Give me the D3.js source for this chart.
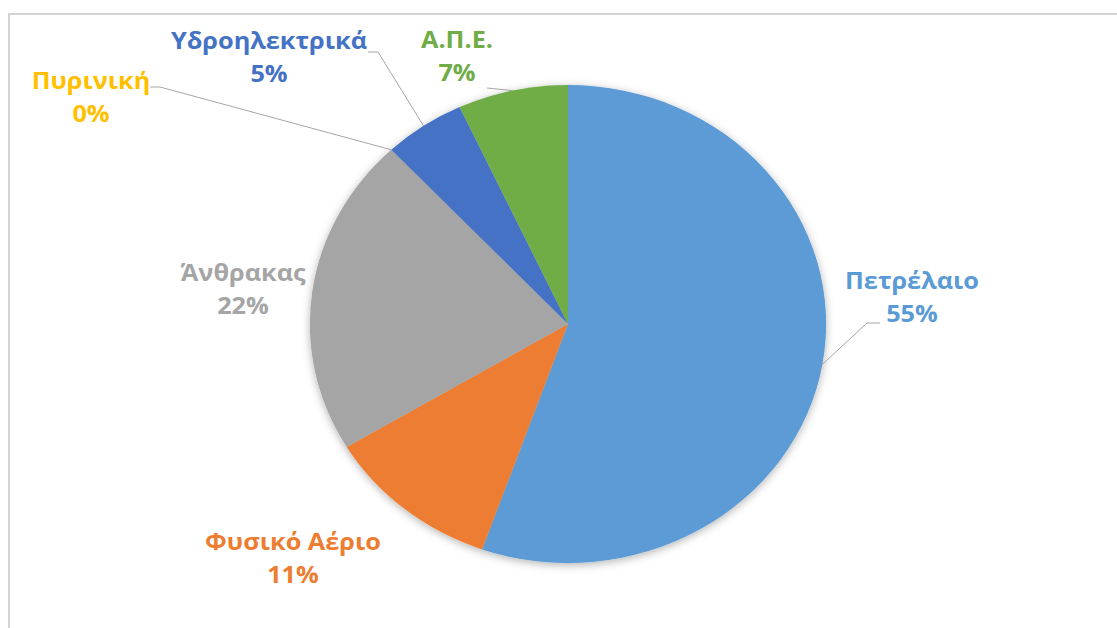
<!DOCTYPE html>
<html>
<head>
<meta charset="utf-8">
<script src="https://cdn.jsdelivr.net/npm/d3@7"></script>
<style>
    body { margin: 0; background: #fff; }
    svg { display: block; }
    .lbl { font-family: "Open Sans", "Noto Sans", sans-serif; font-weight: bold; font-size: 23px; }
</style>
</head>
<body>
<div id="chart"></div>
<script>
var width = 1117,
    height = 628;

// slices, clockwise from 12 o'clock
var sources = ["Πετρέλαιο", "Φυσικό Αέριο", "Άνθρακας", "Πυρινική", "Υδροηλεκτρικά", "Α.Π.Ε."];
var shares = [55.4, 11.0, 21.6, 0.0, 5.1, 6.9];
var colours = ["#5b9bd5", "#ed7d31", "#a5a5a5", "#ffc000", "#4472c4", "#70ad47"];

// label placement (centre of the two line block, first baseline)
var labelX = [912, 293, 243, 91, 269, 457];
var labelY = [289, 550, 281, 89, 49, 48];
// leader lines: elbow and end point (null = no leader)
var leaderElbow = [[867, 323], null, null, [160, 87], [378, 52], [487, 88]];
var leaderEnd = [[880, 323], null, null, [150, 87], [368, 52], [487, 88]];

var cx = 568, cy = 324, ry = 239, stretch = 1.08, textStretch = 1.1;

var svg = d3.select("#chart").append("svg")
    .attr("width", width)
    .attr("height", height);

var defs = svg.append("defs");
var shadow = defs.append("filter")
    .attr("id", "shadow")
    .attr("x", "-20%").attr("y", "-20%")
    .attr("width", "140%").attr("height", "140%");
shadow.append("feDropShadow")
    .attr("dx", 0).attr("dy", 2)
    .attr("stdDeviation", 4)
    .attr("flood-color", "#000")
    .attr("flood-opacity", 0.3);

// chart frame (runs off the page on the right and bottom)
svg.append("rect")
    .attr("x", 9).attr("y", 14)
    .attr("width", 1200).attr("height", 700)
    .attr("fill", "none")
    .attr("stroke", "#d4d4d4")
    .attr("stroke-width", 2);

var pie = d3.pie().sort(null).value(function(d) { return d; });
var arcs = pie(shares);

var arc = d3.arc().innerRadius(0).outerRadius(ry);

var pieGroup = svg.append("g")
    .attr("transform", "translate(" + cx + "," + cy + ") scale(" + stretch + ",1)")
    .attr("filter", "url(#shadow)");

pieGroup.selectAll("path")
    .data(arcs)
    .enter().append("path")
    .attr("d", arc)
    .attr("fill", function(d, i) { return colours[i]; });

// point on the pie edge at the middle of a slice
function edgePoint(d) {
    var a = (d.startAngle + d.endAngle) / 2;
    return [cx + Math.sin(a) * ry * stretch, cy - Math.cos(a) * ry];
}

var leaders = svg.append("g");
arcs.forEach(function(d, i) {
    if (!leaderElbow[i]) return;
    var p = edgePoint(d);
    leaders.append("polyline")
        .attr("points", [p, leaderElbow[i], leaderEnd[i]].map(function(q) { return q.join(","); }).join(" "))
        .attr("fill", "none")
        .attr("stroke", "#a6a6a6")
        .attr("stroke-width", 1);
});

var labels = svg.selectAll(".lbl")
    .data(arcs)
    .enter().append("text")
    .attr("class", "lbl")
    .attr("text-anchor", "middle")
    .attr("transform", function(d, i) { return "translate(" + labelX[i] + "," + labelY[i] + ") scale(" + textStretch + ",1)"; })
    .attr("fill", function(d, i) { return colours[i]; });

labels.append("tspan")
    .attr("x", 0).attr("y", 0)
    .text(function(d, i) { return sources[i]; });

labels.append("tspan")
    .attr("x", 0).attr("y", 33)
    .text(function(d) { return Math.round(d.value) + "%"; });
</script>
</body>
</html>
